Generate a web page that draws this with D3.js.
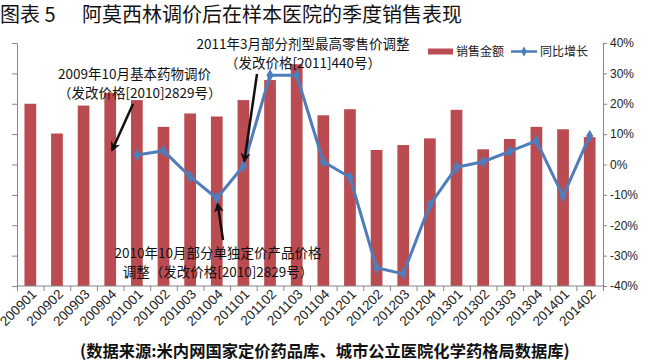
<!DOCTYPE html>
<html>
<head>
<meta charset="utf-8">
<script src="https://cdn.jsdelivr.net/npm/d3@7"></script>
<style>
  body { margin: 0; background: #fff; }
  svg { display: block; font-family: "Noto Sans CJK SC", "Liberation Sans", sans-serif; }
</style>
</head>
<body>
<div id="chart"></div>
<script>
// data
var quarters = ["200901","200902","200903","200904","201001","201002","201003","201004",
  "201101","201102","201103","201104","201201","201202","201203","201204",
  "201301","201302","201303","201304","201401","201402"];
// sales (left axis, its labels are not shown in the original)
var sales = [300, 251, 297, 318, 306, 262, 284, 279, 306, 339, 365, 281,
  291, 224, 232, 243, 290, 225, 242, 262, 258, 245];
// year on year growth, %
var growth = [null, null, null, null, 3.1, 4.5, -4.0, -11.1, -0.5, 29.4, 29.4, 0.9,
  -4.2, -34.0, -36.0, -13.3, -0.9, 0.9, 4.3, 7.8, -10.4, 9.4];
var pctTicks = [-0.4, -0.3, -0.2, -0.1, 0, 0.1, 0.2, 0.3, 0.4];
var seriesNames = ["销售金额", "同比增长"];

var svgWidth = 650, svgHeight = 361;
var plot = { left: 17, right: 603, top: 43, bottom: 286 };
var barColor = "#BA4B51", lineColor = "#4F7DBA", axisColor = "#868686";

var svg = d3.select("#chart").append("svg")
  .attr("width", svgWidth).attr("height", svgHeight);

var x = d3.scaleBand().domain(quarters).range([plot.left, plot.right]).padding(0);
var y = d3.scaleLinear().domain([0, 400]).range([plot.bottom, plot.top]);
var y2 = d3.scaleLinear().domain([-0.4, 0.4]).range([plot.bottom, plot.top]);
var barW = x.bandwidth() * 0.44;
var cx = q => x(q) + x.bandwidth() / 2;

// title
svg.append("text").attr("x", 0).attr("y", 22)
  .style("font-size", "20px").attr("fill", "#111").text("图表 5");
svg.append("text").attr("x", 82).attr("y", 22)
  .style("font-size", "20px").attr("fill", "#111")
  .text("阿莫西林调价后在样本医院的季度销售表现");

// bars
svg.append("g").selectAll("rect")
  .data(sales)
  .enter()
  .append("rect")
    .attr("x", (d, i) => cx(quarters[i]) - barW / 2)
    .attr("y", d => y(d))
    .attr("width", barW)
    .attr("height", d => plot.bottom - y(d))
    .attr("fill", barColor);

// left axis (no labels)
var leftAxis = svg.append("g")
  .attr("transform", `translate(${plot.left},0)`)
  .call(d3.axisLeft(y).tickValues(d3.range(0, 401, 50)).tickSize(5).tickFormat(""));
// right axis
var rightAxis = svg.append("g")
  .attr("transform", `translate(${plot.right},0)`)
  .call(d3.axisRight(y2).tickValues(pctTicks).tickSize(4).tickPadding(3)
    .tickFormat(d => Math.round(d * 100) + "%"));
rightAxis.selectAll("text")
  .style("font-family", "Liberation Sans, sans-serif")
  .style("font-size", "12px").attr("fill", "#222");

[leftAxis, rightAxis].forEach(function(g) {
  g.select(".domain").attr("stroke", axisColor);
  g.selectAll(".tick line").attr("stroke", axisColor);
});

// bottom axis, ticks between categories
var xAxis = svg.append("g").attr("transform", `translate(0,${plot.bottom})`);
xAxis.append("line").attr("x1", plot.left).attr("x2", plot.right).attr("stroke", axisColor);
xAxis.selectAll("line.tk")
  .data(quarters.concat(["end"]))
  .enter()
  .append("line")
    .attr("class", "tk")
    .attr("x1", (d, i) => plot.left + i * x.bandwidth() + 0.5)
    .attr("x2", (d, i) => plot.left + i * x.bandwidth() + 0.5)
    .attr("y1", 0).attr("y2", 5)
    .attr("stroke", axisColor);
xAxis.selectAll("text")
  .data(quarters)
  .enter()
  .append("text")
    .attr("text-anchor", "end")
    .attr("transform", d => `translate(${cx(d) + 7},${9}) rotate(-45)`)
    .style("font-family", "Liberation Sans, sans-serif")
    .style("font-size", "13.5px")
    .attr("fill", "#222")
    .text(d => d);

// growth line
var pts = growth.map((d, i) => ({ q: quarters[i], v: d })).filter(d => d.v !== null);
var line = d3.line()
  .x(d => cx(d.q))
  .y(d => y2(d.v / 100));
svg.append("path")
  .datum(pts)
  .attr("d", line)
  .attr("fill", "none")
  .attr("stroke", lineColor)
  .attr("stroke-width", 3)
  .attr("stroke-linejoin", "round");
svg.append("g").selectAll("path")
  .data(pts)
  .enter()
  .append("path")
    .attr("d", d3.symbol().type(d3.symbolDiamond).size(45))
    .attr("transform", d => `translate(${cx(d.q)},${y2(d.v / 100)})`)
    .attr("fill", lineColor);

// legend
var legend = svg.append("g").style("font-size", "12px").attr("fill", "#222");
legend.append("rect").attr("x", 428).attr("y", 48.5).attr("width", 25).attr("height", 6)
  .attr("fill", barColor);
legend.append("text").attr("x", 456).attr("y", 56).text(seriesNames[0]);
legend.append("line").attr("x1", 511).attr("x2", 537).attr("y1", 51.5).attr("y2", 51.5)
  .attr("stroke", lineColor).attr("stroke-width", 2.5);
legend.append("path").attr("d", d3.symbol().type(d3.symbolDiamond).size(30))
  .attr("transform", "translate(524,51.5)").attr("fill", lineColor);
legend.append("text").attr("x", 540).attr("y", 56).text(seriesNames[1]);

// annotations
svg.append("defs").append("marker")
  .attr("id", "arr").attr("viewBox", "0 0 10 10")
  .attr("refX", 8).attr("refY", 5)
  .attr("markerWidth", 4).attr("markerHeight", 5)
  .attr("orient", "auto")
  .append("path").attr("d", "M0,0 L10,5 L0,10 L3,5 Z").attr("fill", "#111");

function note(lines, tx, y0, anchor) {
  var t = svg.append("text").style("font-size", "13.5px").attr("fill", "#111")
    .attr("text-anchor", anchor);
  lines.forEach(function(s, i) {
    t.append("tspan").attr("x", tx).attr("y", y0 + i * 18.5).text(s);
  });
}
function arrow(x1, y1, x2, yEnd) {
  svg.append("line").attr("x1", x1).attr("y1", y1).attr("x2", x2).attr("y2", yEnd)
    .attr("stroke", "#111").attr("stroke-width", 2.5)
    .attr("marker-end", "url(#arr)");
}

note(["2009年10月基本药物调价", "（发改价格[2010]2829号）"], 58, 79, "start");
arrow(133, 104, cx("200904") + 2, 150);

note(["2011年3月部分剂型最高零售价调整", "（发改价格[2011]440号）"], 303, 49, "middle");
arrow(257, 74, cx("201101") + 1, y2(-0.005) - 5);

note(["2010年10月部分单独定价产品价格", "调整（发改价格[2010]2829号）"], 218, 258, "middle");
arrow(223, 240, cx("201004") + 1, y2(-0.111) + 6);

// source
svg.append("text").attr("x", 80).attr("y", 357)
  .style("font-size", "16.3px").style("font-weight", "bold").attr("fill", "#111")
  .text("(数据来源:米内网国家定价药品库、城市公立医院化学药格局数据库)");
</script>
</body>
</html>
